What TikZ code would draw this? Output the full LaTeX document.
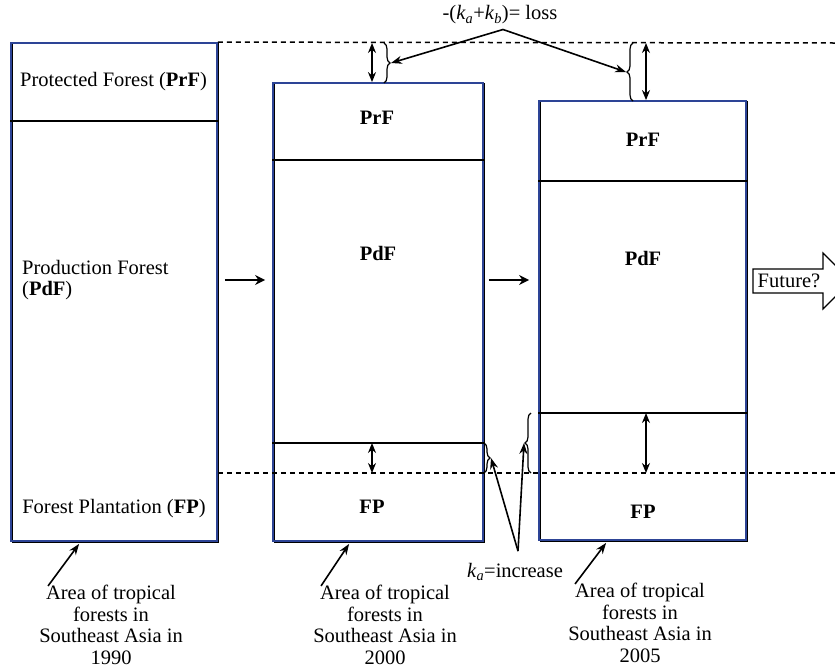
\documentclass[tikz,border=0pt]{standalone}
\usepackage{fontspec}
\setmainfont{Liberation Serif}
\usetikzlibrary{arrows.meta,decorations.pathreplacing}
\definecolor{boxblue}{RGB}{45,68,150}
\begin{document}
\begin{tikzpicture}[x=1pt,y=-1pt,
  every node/.style={font=\fontsize{20.5}{21.7}\selectfont, inner sep=0pt},
  fbox/.style={draw=boxblue, line width=1.8pt},
  divline/.style={line width=1.5pt},
  dashln/.style={line width=1.5pt, dash pattern=on 5pt off 4pt},
  dblarr/.style={line width=1.5pt, {Stealth[length=10pt,width=8pt]}-{Stealth[length=10pt,width=8pt]}},
  arr/.style={line width=1.6pt, -{Stealth[length=11pt,width=8pt]}},
  bigarr/.style={line width=2.8pt, -{Stealth[length=10pt,width=10pt]}},
  brc/.style={line width=1.2pt, decorate, decoration={brace, amplitude=6pt}}]
\useasboundingbox (0,0) rectangle (835,670);

% box shadows
\foreach \cx/\cy/\w/\h in {114/292/206/498, 378/312/210/458, 642.5/320.5/207/439}
  \draw[black, line width=1.2pt] (\cx-\w/2+1.2,\cy-\h/2+0.8) rectangle (\cx+\w/2+1.2,\cy+\h/2+1.2);
% boxes
\node[fbox, minimum width=206pt, minimum height=498pt] (b1) at (114,292) {};
\node[fbox, minimum width=210pt, minimum height=458pt] (b2) at (378,312) {};
\node[fbox, minimum width=207pt, minimum height=439pt] (b3) at (642.5,320.5) {};

% dividers
\draw[divline] (b1.west |- 0,121) -- (b1.east |- 0,121);
\draw[divline] (b2.west |- 0,160) -- (b2.east |- 0,160);
\draw[divline] (b2.west |- 0,443) -- (b2.east |- 0,443);
\draw[divline] (b3.west |- 0,181) -- (b3.east |- 0,181);
\draw[divline] (b3.west |- 0,413) -- (b3.east |- 0,413);

% dashed reference lines
\draw[dashln] (b1.north east) -- (835,43);
\draw[dashln] (b1.east |- 0,473) -- (835,473);

% dimension arrows
\draw[dblarr] (372,43) -- (b2.north -| 372,0);
\draw[dblarr] (646,43) -- (b3.north -| 646,0);
\draw[dblarr] (372,443) -- (372,473);
\draw[dblarr] (646,413) -- (646,473);

% braces
\draw[brc] (384,43) -- (384,83);
\coordinate (bt1) at (391,63);
\draw[brc] (633,101) -- (633,43);
\coordinate (bt2) at (626,72);
\draw[brc] (484,443) -- (484,473);
\coordinate (bt3) at (491,458);
\draw[brc] (531,473) -- (531,413);
\coordinate (bt4) at (524,443);

% box labels
\node[anchor=west] (t1a) at (20,82) {Protected Forest (\textbf{PrF})};
\node[anchor=west, align=left] (t1b) at (22,280) {Production Forest\\(\textbf{PdF})};
\node (t1c) at (114,509) {Forest Plantation (\textbf{FP})};
\node (t2a) at (377,118) {\textbf{PrF}};
\node (t2b) at (378,253) {\textbf{PdF}};
\node (t2c) at (372,507) {\textbf{FP}};
\node (t3a) at (643,140) {\textbf{PrF}};
\node (t3b) at (643,258) {\textbf{PdF}};
\node (t3c) at (643,512) {\textbf{FP}};

% loss / increase labels
\node (loss) at (500,15) {-(\textit{k}\textsubscript{\textit{a}}+\textit{k}\textsubscript{\textit{b}})= loss};
\draw[arr] ([xshift=3pt,yshift=-5pt]loss.south) -- (bt1);
\draw[arr] ([xshift=3pt,yshift=-5pt]loss.south) -- (bt2);
\node (ka) at (515,572) {\textit{k}\textsubscript{\textit{a}}=increase};
\draw[arr] ([xshift=3pt,yshift=12pt]ka.north) -- (bt3);
\draw[arr] ([xshift=3pt,yshift=12pt]ka.north) -- (bt4);

% arrows between boxes
\draw[bigarr] ([xshift=7pt,yshift=12pt]b1.east) -- ([xshift=-7pt,yshift=32pt]b2.west);
\draw[bigarr] ([xshift=5pt,yshift=32pt]b2.east) -- ([xshift=-9pt,yshift=40.5pt]b3.west);

% future arrow
\draw[line width=1.1pt] (753,269) -- (823,269) -- (823,253) -- (851,281) -- (823,309) -- (823,293) -- (753,293) -- cycle;
\node (fut) at (789,281) {Future?};

% captions
\node[align=center] (cap1) at (111,625) {Area of tropical\\forests in\\Southeast Asia in\\1990};
\node[align=center] (cap2) at (385,625) {Area of tropical\\forests in\\Southeast Asia in\\2000};
\node[align=center] (cap3) at (640,623) {Area of tropical\\forests in\\Southeast Asia in\\2005};
\draw[arr] ([xshift=9pt,yshift=-1pt]cap1.north west) -- ([xshift=69pt,yshift=-2pt]b1.south west);
\draw[arr] ([xshift=8pt,yshift=-1pt]cap2.north west) -- ([xshift=77pt,yshift=-2pt]b2.south west);
\draw[arr] ([xshift=7pt,yshift=-1pt]cap3.north west) -- ([xshift=68pt,yshift=-2pt]b3.south west);
\end{tikzpicture}
\end{document}
